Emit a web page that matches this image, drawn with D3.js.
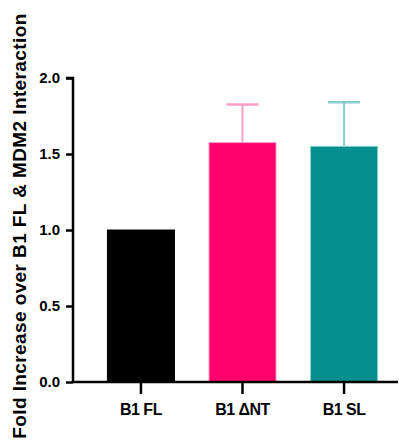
<!DOCTYPE html>
<html>
<head>
<meta charset="utf-8">
<script src="https://cdn.jsdelivr.net/npm/d3@7"></script>
<style>
  body { margin: 0; background: #fff; }
  text { font-family: "Liberation Sans", Arial, sans-serif; font-weight: bold; }
</style>
</head>
<body>
<div id="chart"></div>
<script>
// data
const categories = ["B1 FL", "B1 \u0394NT", "B1 SL"];
const means = [1.0, 1.575, 1.55];
const errUpper = [0, 0.25, 0.29];
const barColors = ["#000000", "#ff006e", "#058f8f"];
const errColors = ["#000000", "#ff9cc6", "#86cccc"];
const yTicks = [0.0, 0.5, 1.0, 1.5, 2.0];

var width = 399
var height = 446

var svg = d3.select("#chart")
  .append("svg")
    .attr("width", width)
    .attr("height", height)

var y = d3.scaleLinear()
  .domain([0, 2])
  .range([382, 78])

var x = d3.scaleBand()
  .domain(categories)
  .range([80, 405])
  .paddingInner(0.34)
  .paddingOuter(0.27)

// bars
svg.selectAll("rect.bar")
  .data(categories)
  .enter()
  .append("rect")
  .attr("class", "bar")
  .attr("x", d => x(d))
  .attr("width", x.bandwidth())
  .attr("y", (d, i) => y(means[i]))
  .attr("height", (d, i) => y(0) - y(means[i]))
  .attr("fill", (d, i) => barColors[i])
  .attr("stroke", (d, i) => errColors[i])
  .attr("stroke-width", 1)

// error bars (upper half only)
var eb = svg.selectAll("g.err")
  .data(categories.filter((d, i) => errUpper[i] > 0))
  .enter()
  .append("g")
  .attr("class", "err")

eb.append("line")
  .attr("x1", d => x(d) + x.bandwidth() / 2)
  .attr("x2", d => x(d) + x.bandwidth() / 2)
  .attr("y1", d => { var i = categories.indexOf(d); return y(means[i]) })
  .attr("y2", d => { var i = categories.indexOf(d); return y(means[i] + errUpper[i]) })
  .attr("stroke", d => errColors[categories.indexOf(d)])
  .attr("stroke-width", 2)

eb.append("line")
  .attr("x1", d => x(d) + x.bandwidth() / 2 - 16)
  .attr("x2", d => x(d) + x.bandwidth() / 2 + 16)
  .attr("y1", d => { var i = categories.indexOf(d); return y(means[i] + errUpper[i]) })
  .attr("y2", d => { var i = categories.indexOf(d); return y(means[i] + errUpper[i]) })
  .attr("stroke", d => errColors[categories.indexOf(d)])
  .attr("stroke-width", 2.5)

// y axis
var yAxis = svg.append("g")
  .attr("transform", "translate(73,0)")
  .call(d3.axisLeft(y).tickValues(yTicks).tickFormat(d3.format(".1f")).tickSize(7).tickPadding(6))
yAxis.select(".domain").attr("stroke-width", 2.5).attr("d", "M-7," + y(2) + "H0V" + y(0))
yAxis.selectAll(".tick line").attr("stroke-width", 2.5)
yAxis.selectAll(".tick text").attr("font-size", 15).attr("fill", "#000")

// x axis
var xAxis = svg.append("g")
  .attr("transform", "translate(0," + y(0) + ")")
  .call(d3.axisBottom(x).tickSize(12).tickPadding(10))
xAxis.select(".domain").attr("stroke-width", 2.5).attr("d", "M73,0H398")
xAxis.selectAll(".tick line").attr("stroke-width", 2.5)
xAxis.selectAll(".tick text").attr("font-size", 16).attr("fill", "#000").style("letter-spacing", "-0.5px")

// y title
svg.append("text")
  .attr("transform", "translate(26," + 226 + ") rotate(-90)")
  .attr("text-anchor", "middle")
  .attr("font-size", 19)
  .style("letter-spacing", "0.4px")
  .text("Fold Increase over B1 FL & MDM2 Interaction")
</script>
</body>
</html>
